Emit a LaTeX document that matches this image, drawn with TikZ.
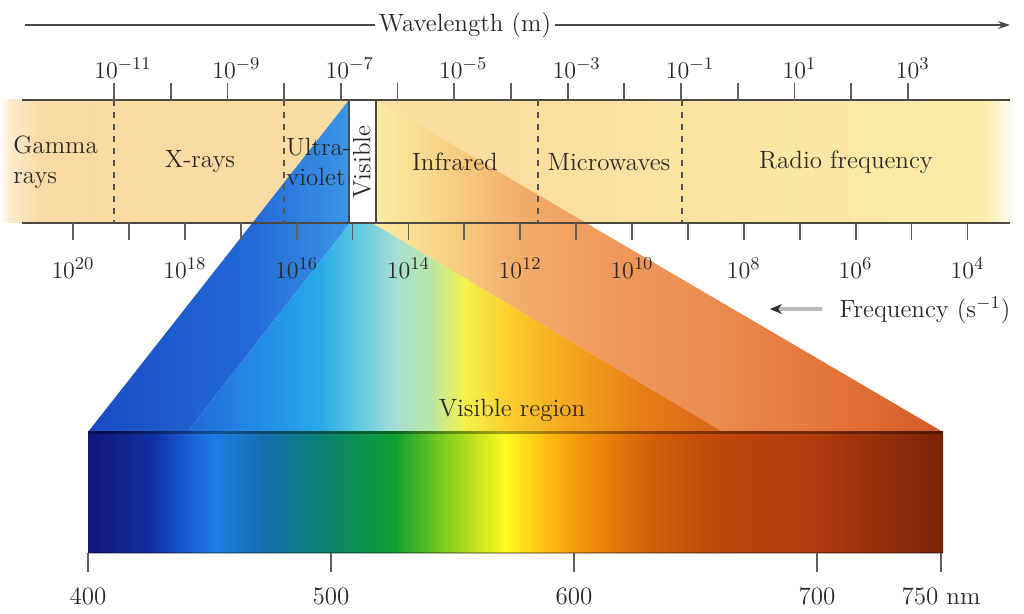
\documentclass[tikz,border=0pt]{standalone}
\usepackage{tikz}
\usetikzlibrary{arrows.meta}

\definecolor{txt}{RGB}{45,40,35}
% visible spectrum strip
\definecolor{sA}{RGB}{16,24,120}
\definecolor{sB}{RGB}{18,45,160}
\definecolor{sC}{RGB}{25,95,215}
\definecolor{sD}{RGB}{30,125,230}
\definecolor{sE}{RGB}{20,110,170}
\definecolor{sF}{RGB}{10,130,110}
\definecolor{sG}{RGB}{15,160,50}
\definecolor{sH}{RGB}{130,205,30}
\definecolor{sI}{RGB}{255,250,30}
\definecolor{sJ}{RGB}{255,190,20}
\definecolor{sK}{RGB}{240,140,10}
\definecolor{sL}{RGB}{210,95,10}
\definecolor{sM}{RGB}{190,70,10}
\definecolor{sN}{RGB}{175,58,15}
\definecolor{sO}{RGB}{120,35,8}
% beam faces
\definecolor{fA}{RGB}{35,105,215}
\definecolor{fB}{RGB}{35,135,228}
\definecolor{fC}{RGB}{40,170,232}
\definecolor{fD}{RGB}{90,200,225}
\definecolor{fE}{RGB}{165,222,212}
\definecolor{fF}{RGB}{185,230,170}
\definecolor{fG}{RGB}{245,242,75}
\definecolor{fH}{RGB}{250,205,45}
\definecolor{fI}{RGB}{245,165,30}
\definecolor{fJ}{RGB}{232,125,25}
\definecolor{fK}{RGB}{215,100,25}
\definecolor{lA}{RGB}{25,75,195}
\definecolor{lC}{RGB}{60,150,230}
\definecolor{rA}{RGB}{252,238,165}
\definecolor{rB}{RGB}{248,212,135}
\definecolor{rC}{RGB}{242,172,105}
\definecolor{rD}{RGB}{240,155,95}
\definecolor{rE}{RGB}{236,142,82}
\definecolor{rF}{RGB}{226,112,55}
\definecolor{rG}{RGB}{210,90,40}
% band
\definecolor{bA}{RGB}{252,235,205}
\definecolor{bB}{RGB}{250,218,165}
\definecolor{bC}{RGB}{250,222,160}
\definecolor{bD}{RGB}{252,234,165}
\definecolor{bE}{RGB}{252,236,170}

\pgfdeclarehorizontalshading{spectrum}{100bp}{color(0bp)=(sA); color(25bp)=(sA);
  color(28.63bp)=(sB); color(30.96bp)=(sC); color(32.43bp)=(sD); color(35.35bp)=(sE);
  color(38.86bp)=(sF); color(42.95bp)=(sG); color(45.88bp)=(sH); color(49.39bp)=(sI);
  color(51.73bp)=(sJ); color(54.36bp)=(sK); color(57.87bp)=(sL); color(61.96bp)=(sM);
  color(67.81bp)=(sN); color(75bp)=(sO); color(100bp)=(sO)}
\pgfdeclarehorizontalshading{frontface}{100bp}{color(0bp)=(fA); color(25bp)=(fA);
  color(30.88bp)=(fB); color(37.41bp)=(fC); color(40.67bp)=(fD); color(44.4bp)=(fE);
  color(47.67bp)=(fF); color(50.93bp)=(fG); color(55.13bp)=(fH); color(60.73bp)=(fI);
  color(67.26bp)=(fJ); color(75bp)=(fK); color(100bp)=(fK)}
\pgfdeclarehorizontalshading{leftface}{100bp}{color(0bp)=(lA); color(25bp)=(lA);
  color(55.9bp)=(fA); color(75bp)=(lC); color(100bp)=(lC)}
\pgfdeclarehorizontalshading{rightface}{100bp}{color(0bp)=(rA); color(25bp)=(rA);
  color(31bp)=(rB); color(38bp)=(rC); color(45bp)=(rD); color(53.72bp)=(rE);
  color(66.86bp)=(rF); color(75bp)=(rG); color(100bp)=(rG)}
\pgfdeclarehorizontalshading{band}{100bp}{color(0bp)=(white); color(25bp)=(white);
  color(25.49bp)=(bA); color(26.95bp)=(bB); color(49.4bp)=(bC); color(68.95bp)=(bD);
  color(73.1bp)=(bE); color(74.56bp)=(white); color(100bp)=(white)}

\begin{document}
\begin{tikzpicture}[x=0.5pt,y=-0.5pt,
    font=\fontsize{12.5}{15}\selectfont,
    every node/.style={text=txt,inner sep=2pt},
    bandline/.style={draw=txt!85,line width=1pt},
    tickmark/.style={draw=txt!75,line width=0.9pt},
    divider/.style={draw=txt!80,line width=0.9pt,dashed}]
\useasboundingbox (0,0) rectangle (1024,614);

% band of regions
\shade[shading=band] (0,100) rectangle (1024,223);

% beam from the visible slot to the spectrum
\shade[shading=leftface] (349,100) -- (350,223) -- (187,432) -- (88,432) -- cycle;
\shade[shading=rightface] (376,100) -- (943,432) -- (723,432) -- (372,223) -- cycle;
\shade[shading=frontface] (350,223) -- (372,223) -- (723,432) -- (187,432) -- cycle;
\fill[white] (349,100) rectangle (376,223);

\draw[bandline] (22,100) -- (1010,100);
\draw[bandline] (22,223) -- (1010,223);
\draw[bandline] (349,100) -- (349,223);
\draw[bandline] (376,100) -- (376,223);
\foreach \x in {114,284,538,682}
    \draw[divider] (\x,100) -- (\x,223);

% wavelength axis
\foreach \i in {0,...,14}
    \draw[tickmark] ({114+56.7*\i},83) -- ++(0,17);
\foreach \i/\e in {0/-11,2/-9,4/-7,6/-5,8/-3,10/-1}
    \node (lam\i) at ({123+56.7*\i},68) {$10^{\e}$};
\foreach \i/\e in {12/1,14/3}
    \node (lam\i) at ({119+56.7*\i},68) {$10^{\e}$};

\node (wl) at (465,25) {Wavelength (m)};
\coordinate (wlA) at (25,25);
\coordinate (wlB) at (1010,25);
\draw[txt!85,line width=1pt] (wlA) -- (wl.west);
\draw[txt!85,line width=1pt,-{Stealth[length=6pt,width=4pt]}] (wl.east) -- (wlB);

% frequency axis
\foreach \i in {0,...,16}
    \draw[tickmark] ({73+55.9*\i},223) -- ++(0,17);
\foreach \i/\e in {0/20,2/18,4/16,6/14,8/12,10/10,12/8,14/6,16/4}
    \node (nu\i) at ({73+55.9*\i},268) {$10^{\e}$};

\node (freq) at (925,310) {Frequency (s$^{-1}$)};
\coordinate (fqtip) at (770,309);
\coordinate (fqtail) at (822,309);
\draw[gray!55,line width=2pt,{Stealth[black!80,length=6pt,width=5pt]}-] (fqtip) -- (fqtail);

% region names
\begin{scope}[every node/.style={text=txt,align=left,inner sep=0pt}]
    \node[anchor=west] (gamma) at (13,162) {Gamma\\rays};
    \node (xray) at (200,162) {X-rays};
    \node[anchor=west] (uv) at (286,162) {Ultra-\\violet};
    \node[rotate=90] (vis) at (362,162) {Visible};
    \node (ir) at (455,162) {Infrared};
    \node (mw) at (609,162) {Microwaves};
    \node (radio) at (846,162) {Radio frequency};
\end{scope}

% visible spectrum
\node (visreg) at (512,410) {Visible region};
\shade[shading=spectrum] (88,432) rectangle (943,553);
\draw[black,opacity=.35,line width=1.5pt] (88,433) -- (943,433);
\draw[black,opacity=.3,line width=0.8pt] (88,553) -- (943,553);
\foreach \x/\l in {88/400,331/500,574/600,817/700}{
    \draw[tickmark] (\x,553) -- ++(0,19);
    \node (nm\l) at (\x,596) {\l};
}
\draw[tickmark] (941,553) -- ++(0,19);
\node (nm750) at (941,596) {750 nm};
\end{tikzpicture}
\end{document}
